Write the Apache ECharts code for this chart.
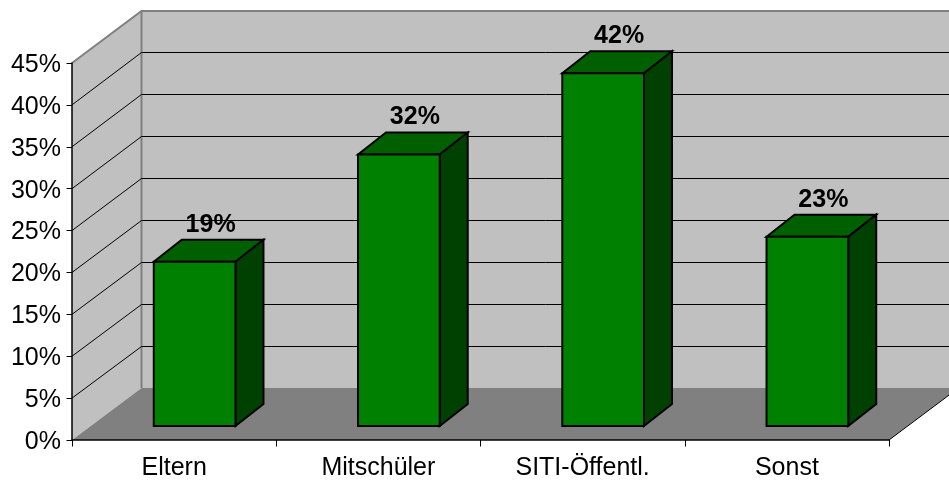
<!DOCTYPE html>
<html>
<head>
<meta charset="utf-8">
<style>html,body{margin:0;padding:0;background:#fff;overflow:hidden}#c{width:949px;height:481px}</style>
<script src="https://cdn.jsdelivr.net/npm/echarts@6/dist/echarts.min.js"></script>
</head>
<body>
<div id="c"></div>
<script>
var categories = ['Eltern', 'Mitschüler', 'SITI-Öffentl.', 'Sonst'];
var barValues = [19.6, 32.4, 42.1, 22.6];
var barLabels = ['19%', '32%', '42%', '23%'];
var gridValues = [5, 10, 15, 20, 25, 30, 35, 40];

var FONT = '"Liberation Sans", Arial, sans-serif';
var WALL = {dx: 69.5, dy: -52};
var BAR = {ox: 20.5, oy: -14, dx: 28, dy: -22, half: 0.2};

function poly(points, fill, stroke, lw) {
  return {type: 'polygon', shape: {points: points},
    style: {fill: fill, stroke: stroke || null, lineWidth: lw || 0, lineJoin: 'miter'}};
}
function line(points, stroke, lw) {
  return {type: 'polyline', shape: {points: points},
    style: {fill: null, stroke: stroke, lineWidth: lw}};
}

var chart = echarts.init(document.getElementById('c'), null, {renderer: 'canvas'});
chart.setOption({
  animation: false,
  backgroundColor: '#ffffff',
  grid: {left: 72, top: 63, width: 817, height: 377, containLabel: false},
  xAxis: {
    type: 'category', data: categories, z: 5,
    axisLine: {show: true, lineStyle: {color: '#000', width: 1.5}},
    axisTick: {show: true, alignWithLabel: false, length: 6.5, lineStyle: {color: '#000', width: 1}},
    axisLabel: {color: '#000', fontFamily: FONT, fontSize: 25, margin: 16, interval: 0}
  },
  yAxis: {
    type: 'value', min: 0, max: 45, interval: 5, z: 5,
    axisLine: {show: true, lineStyle: {color: '#000', width: 1.5}},
    axisTick: {show: true, length: 5.5, lineStyle: {color: '#000', width: 1}},
    axisLabel: {
      color: '#000', margin: 11, formatter: '{a|{value}%}',
      rich: {a: {color: '#000', fontFamily: FONT, fontSize: 25, padding: [4, 0, 0, 0]}}
    },
    splitLine: {show: false}
  },
  series: [
    {
      type: 'custom', z: 1, silent: true, data: [[0, 0]],
      encode: {x: 0, y: 1},
      renderItem: function (params, api) {
        var c = params.coordSys;
        var l = c.x, r = c.x + c.width, t = c.y, b = c.y + c.height;
        var d = WALL;
        return {type: 'group', children: [
          poly([[l, t], [l + d.dx, t + d.dy], [l + d.dx, b + d.dy], [l, b]], '#c0c0c0'),
          poly([[l + d.dx, t + d.dy], [r + d.dx, t + d.dy], [r + d.dx, b + d.dy], [l + d.dx, b + d.dy]], '#c0c0c0'),
          poly([[l, b], [l + d.dx, b + d.dy], [r + d.dx, b + d.dy], [r, b]], '#808080'),
          line([[l, t], [l + d.dx, t + d.dy], [r + d.dx, t + d.dy]], '#808080', 2),
          line([[l + d.dx, t + d.dy], [l + d.dx, b + d.dy]], '#808080', 2),
          line([[r, b], [r + d.dx, b + d.dy]], '#000', 1)
        ]};
      }
    },
    {
      type: 'custom', z: 2, silent: true,
      data: gridValues.map(function (v) { return [0, v]; }),
      encode: {x: 0, y: 1},
      renderItem: function (params, api) {
        var c = params.coordSys, y = api.coord([0, api.value(1)])[1];
        var d = WALL;
        var yb = Math.floor(y + d.dy) + 0.5;
        return line([[c.x, y], [c.x + d.dx, yb], [c.x + c.width + d.dx, yb]], '#000', 1);
      }
    },
    {
      type: 'custom', z: 6, silent: true,
      data: barValues.map(function (v, i) { return [i, v]; }),
      encode: {x: 0, y: 1},
      renderItem: function (params, api) {
        var i = api.value(0), top = api.coord([i, api.value(1)]), base = api.coord([i, 0]);
        var hw = api.size([1, 0])[0] * BAR.half;
        var l = top[0] + BAR.ox - hw, r = top[0] + BAR.ox + hw;
        var yt = top[1] + BAR.oy, yb = base[1] + BAR.oy;
        var dx = BAR.dx, dy = BAR.dy;
        return {type: 'group', children: [
          poly([[l, yt], [l + dx, yt + dy], [r + dx, yt + dy], [r, yt]], '#006000', '#000', 2),
          poly([[r, yt], [r + dx, yt + dy], [r + dx, yb + dy], [r, yb]], '#004000', '#000', 2),
          poly([[l, yt], [r, yt], [r, yb], [l, yb]], '#008000', '#000', 2),
          {type: 'text', style: {
            text: barLabels[i], x: top[0] + BAR.ox + dx / 2 + 2, y: yt + dy - 15,
            align: 'center', verticalAlign: 'middle',
            font: 'bold 25px ' + FONT, fill: '#000'
          }}
        ]};
      }
    }
  ]
});
</script>
</body>
</html>
